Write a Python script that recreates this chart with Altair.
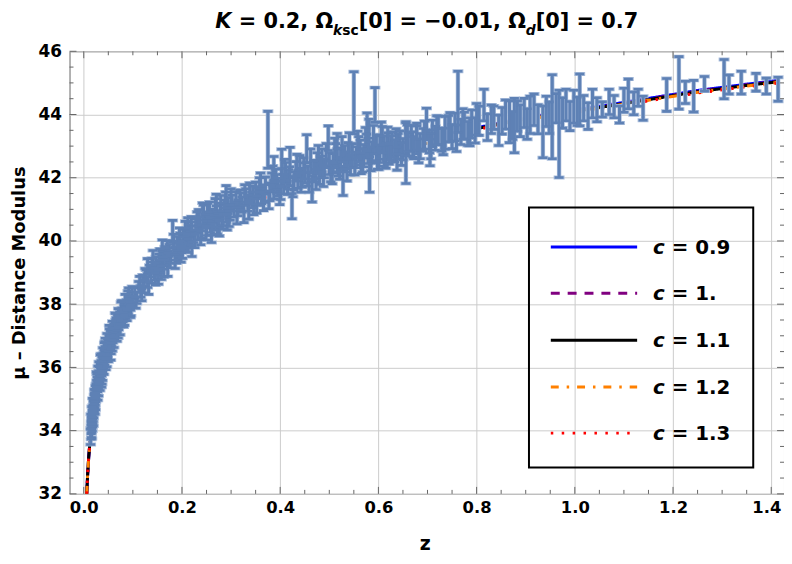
import altair as alt
import pandas as pd

# ---------------- supernova data ----------------
z_low = [0.0150, 0.0152, 0.0155, 0.0158, 0.0160, 0.0163, 0.0166, 0.0170, 0.0172, 0.0175,
         0.0178, 0.0182, 0.0185, 0.0188, 0.0192, 0.0196, 0.0200, 0.0204, 0.0208, 0.0212,
         0.0216, 0.0220, 0.0225, 0.0230, 0.0235, 0.0240, 0.0245, 0.0250, 0.0256, 0.0262,
         0.0268, 0.0275, 0.0282, 0.0290, 0.0297, 0.0305, 0.0312, 0.0320, 0.0328, 0.0336,
         0.0345, 0.0354, 0.0363, 0.0372, 0.0382, 0.0392, 0.0402, 0.0413, 0.0424, 0.0436,
         0.0448, 0.0460, 0.0473, 0.0486, 0.0500, 0.0515, 0.0530, 0.0545, 0.0560, 0.0577,
         0.0594, 0.0612, 0.0630, 0.0650, 0.0670, 0.0690, 0.0710, 0.0732, 0.0755, 0.0778,
         0.0800, 0.0825, 0.0850, 0.0875, 0.0900, 0.0925, 0.0950, 0.0975, 0.1000,
         0.0180, 0.0230, 0.0260, 0.0300, 0.0340, 0.0380, 0.0420, 0.0470, 0.0520, 0.0580,
         0.0640, 0.0700, 0.0760, 0.0830, 0.0900, 0.0960]
mu_low = [33.95, 34.10, 34.02, 34.25, 34.15, 33.98, 34.30, 34.38, 34.21, 34.45,
          34.33, 34.55, 34.40, 34.62, 34.50, 34.75, 34.60, 34.82, 34.70, 34.95,
          34.80, 35.02, 34.90, 35.12, 35.00, 35.25, 35.10, 35.30, 35.18, 35.42,
          35.30, 35.52, 35.40, 35.65, 35.50, 35.72, 35.60, 35.85, 35.70, 35.95,
          35.82, 36.05, 35.92, 36.15, 36.02, 36.28, 36.15, 36.38, 36.25, 36.50,
          36.38, 36.62, 36.48, 36.75, 36.62, 36.85, 36.72, 36.98, 36.85, 37.10,
          36.95, 37.22, 37.08, 37.35, 37.20, 37.48, 37.35, 37.60, 37.45, 37.72,
          37.60, 37.85, 37.72, 37.98, 37.85, 38.10, 37.98, 38.22, 38.10,
          34.80, 34.72, 35.65, 35.30, 36.20, 35.78, 36.60, 36.20, 37.15, 36.70,
          37.55, 37.10, 37.90, 37.50, 38.25, 37.80]
err_low = [0.22, 0.20, 0.24, 0.19, 0.21, 0.23, 0.20, 0.18, 0.22, 0.19,
           0.21, 0.18, 0.20, 0.19, 0.21, 0.18, 0.20, 0.19, 0.17, 0.19,
           0.20, 0.18, 0.19, 0.18, 0.20, 0.17, 0.19, 0.18, 0.20, 0.17,
           0.19, 0.18, 0.17, 0.18, 0.19, 0.17, 0.18, 0.17, 0.18, 0.17,
           0.18, 0.17, 0.18, 0.17, 0.17, 0.16, 0.17, 0.16, 0.18, 0.16,
           0.17, 0.16, 0.17, 0.16, 0.17, 0.16, 0.17, 0.16, 0.17, 0.16,
           0.17, 0.16, 0.17, 0.16, 0.17, 0.16, 0.16, 0.16, 0.17, 0.16,
           0.16, 0.16, 0.17, 0.16, 0.16, 0.16, 0.17, 0.16, 0.16,
           0.22, 0.20, 0.21, 0.20, 0.19, 0.19, 0.18, 0.18, 0.18, 0.18,
           0.17, 0.17, 0.17, 0.17, 0.17, 0.17]
z_low2 = [0.0140, 0.0145, 0.0165, 0.0195, 0.0215, 0.0240, 0.0265, 0.0285, 0.0310, 0.0330,
          0.0350, 0.0370, 0.0390, 0.0410, 0.0430, 0.0450, 0.0475, 0.0500, 0.0525, 0.0555,
          0.0585, 0.0615, 0.0645, 0.0675, 0.0705, 0.0740, 0.0770, 0.0810, 0.0845, 0.0880,
          0.0915, 0.0950, 0.0985, 0.0290, 0.0360, 0.0440, 0.0550, 0.0660, 0.0790, 0.0940]
mu_low2 = [33.80, 34.30, 34.55, 34.35, 35.10, 34.85, 35.60, 35.15, 36.00, 35.45,
           36.25, 35.65, 36.45, 35.95, 36.65, 36.10, 36.90, 36.35, 37.05, 36.60,
           37.30, 36.80, 37.55, 37.00, 37.70, 37.20, 37.95, 37.45, 38.15, 37.65,
           38.35, 37.75, 38.40, 35.85, 35.55, 36.75, 36.40, 37.40, 37.95, 38.00]
err_low2 = [0.24, 0.22, 0.21, 0.20, 0.20, 0.19, 0.19, 0.19, 0.18, 0.18,
            0.18, 0.18, 0.17, 0.17, 0.17, 0.17, 0.17, 0.17, 0.17, 0.17,
            0.16, 0.17, 0.16, 0.17, 0.16, 0.17, 0.16, 0.17, 0.16, 0.17,
            0.16, 0.17, 0.16, 0.19, 0.18, 0.17, 0.17, 0.17, 0.16, 0.16]

z_sdss = [0.104, 0.108, 0.112, 0.116, 0.120, 0.123, 0.127, 0.130, 0.134, 0.137,
          0.141, 0.144, 0.147, 0.150, 0.153, 0.156, 0.159, 0.162, 0.165, 0.168,
          0.171, 0.174, 0.177, 0.181, 0.184, 0.187, 0.190, 0.193, 0.196, 0.199,
          0.202, 0.205, 0.208, 0.211, 0.214, 0.217, 0.220, 0.224, 0.228, 0.232,
          0.236, 0.240, 0.242, 0.246, 0.250, 0.254, 0.258, 0.262, 0.266, 0.270,
          0.274, 0.278, 0.282, 0.286, 0.290, 0.294, 0.298, 0.302, 0.306, 0.310,
          0.141, 0.160, 0.130, 0.152, 0.220, 0.260, 0.290, 0.270]
mu_sdss = [38.35, 38.20, 38.55, 38.40, 38.75, 38.55, 38.90, 38.70, 39.05, 38.85,
           39.15, 38.95, 39.30, 39.10, 39.40, 39.20, 39.50, 39.30, 39.62, 39.40,
           39.25, 39.70, 39.50, 40.30, 39.80, 39.60, 39.95, 39.72, 40.05, 39.82,
           40.15, 39.92, 40.22, 40.00, 40.32, 40.08, 40.40, 40.15, 40.48, 40.25,
           40.55, 40.30, 40.85, 40.62, 40.40, 40.70, 40.50, 40.78, 40.58, 40.88,
           40.65, 40.95, 40.72, 41.05, 40.82, 41.12, 40.90, 41.20, 41.00, 41.30,
           39.45, 39.75, 39.20, 38.85, 39.75, 40.20, 41.45, 41.20]
err_sdss = [0.17, 0.18, 0.17, 0.18, 0.17, 0.19, 0.18, 0.17, 0.18, 0.19,
            0.18, 0.19, 0.20, 0.18, 0.19, 0.20, 0.18, 0.19, 0.20, 0.18,
            0.37, 0.19, 0.20, 0.35, 0.19, 0.20, 0.19, 0.21, 0.20, 0.19,
            0.21, 0.20, 0.19, 0.21, 0.20, 0.22, 0.21, 0.20, 0.22, 0.21,
            0.22, 0.21, 0.35, 0.22, 0.23, 0.22, 0.23, 0.22, 0.24, 0.23,
            0.22, 0.24, 0.23, 0.24, 0.23, 0.25, 0.24, 0.25, 0.24, 0.26,
            0.25, 0.28, 0.24, 0.22, 0.24, 0.25, 0.30, 0.28]
z_sdss2 = [0.106, 0.114, 0.118, 0.125, 0.132, 0.139, 0.146, 0.155, 0.163, 0.170,
           0.176, 0.183, 0.189, 0.195, 0.201, 0.207, 0.213, 0.219, 0.226, 0.231,
           0.238, 0.244, 0.249, 0.256, 0.261, 0.268, 0.272, 0.279, 0.284, 0.289,
           0.296, 0.300, 0.158, 0.186, 0.212, 0.234, 0.252, 0.276, 0.292, 0.198]
mu_sdss2 = [38.05, 38.70, 38.30, 38.95, 38.50, 39.25, 38.80, 39.55, 39.05, 39.80,
            39.35, 40.00, 39.50, 40.20, 39.65, 40.40, 39.85, 40.55, 40.00, 40.70,
            40.10, 40.90, 40.25, 41.00, 40.40, 41.10, 40.45, 41.20, 40.60, 41.30,
            40.70, 41.40, 39.00, 39.35, 40.50, 40.75, 40.95, 40.40, 40.60, 39.55]
err_sdss2 = [0.18, 0.18, 0.19, 0.18, 0.19, 0.20, 0.19, 0.20, 0.19, 0.21,
             0.20, 0.21, 0.20, 0.21, 0.20, 0.22, 0.21, 0.22, 0.21, 0.22,
             0.22, 0.23, 0.22, 0.23, 0.22, 0.24, 0.23, 0.24, 0.23, 0.25,
             0.24, 0.25, 0.22, 0.22, 0.23, 0.24, 0.24, 0.24, 0.25, 0.22]

z_mid = [0.314, 0.318, 0.322, 0.326, 0.330, 0.334, 0.338, 0.342, 0.346, 0.350,
         0.354, 0.358, 0.362, 0.366, 0.370, 0.375, 0.379, 0.383, 0.387, 0.391,
         0.395, 0.399, 0.403, 0.407, 0.411, 0.415, 0.419, 0.424, 0.428, 0.432,
         0.436, 0.440, 0.445, 0.450, 0.454, 0.459, 0.465, 0.470, 0.475, 0.480,
         0.485, 0.490, 0.498, 0.503, 0.508, 0.513, 0.518, 0.523, 0.528, 0.533,
         0.538, 0.543, 0.550, 0.555, 0.560, 0.565, 0.570, 0.576, 0.582, 0.587,
         0.593, 0.598, 0.603, 0.608,
         0.387, 0.403, 0.420, 0.516, 0.577, 0.581, 0.619, 0.640, 0.656, 0.678]
mu_mid = [41.05, 41.35, 41.15, 40.85, 41.40, 41.20, 41.55, 41.30, 41.10, 41.60,
          41.40, 41.70, 41.45, 41.25, 41.75, 43.20, 41.55, 41.85, 41.60, 41.95,
          41.70, 41.45, 42.00, 41.80, 42.15, 41.75, 42.05, 41.10, 41.90, 42.20,
          41.95, 42.35, 42.00, 42.15, 42.92, 41.85, 41.65, 42.25, 42.45, 42.10,
          42.55, 42.30, 43.25, 42.20, 42.45, 42.70, 42.35, 42.60, 41.90, 42.50,
          42.75, 42.40, 44.37, 42.65, 42.90, 42.45, 42.70, 43.00, 42.10, 42.80,
          44.30, 42.60, 42.95, 43.20,
          42.30, 42.40, 42.50, 42.90, 43.45, 43.30, 43.10, 43.00, 43.25, 43.20]
err_mid = [0.25, 0.26, 0.24, 0.27, 0.25, 0.26, 0.28, 0.25, 0.27, 0.26,
           0.28, 0.30, 0.27, 0.29, 0.27, 0.90, 0.28, 0.30, 0.27, 0.32,
           0.28, 0.30, 0.29, 0.31, 0.33, 0.28, 0.30, 0.40, 0.29, 0.31,
           0.28, 0.35, 0.30, 0.32, 0.44, 0.31, 0.42, 0.30, 0.34, 0.31,
           0.36, 0.30, 0.39, 0.33, 0.31, 0.38, 0.30, 0.34, 0.46, 0.32,
           0.36, 0.31, 0.98, 0.33, 0.40, 0.32, 0.35, 0.38, 0.56, 0.34,
           0.55, 0.33, 0.37, 0.42,
           0.37, 0.50, 0.46, 0.50, 0.60, 0.55, 0.50, 0.40, 0.52, 0.44]
z_mid2 = [0.312, 0.320, 0.328, 0.336, 0.344, 0.352, 0.360, 0.368, 0.377, 0.385,
          0.393, 0.401, 0.409, 0.417, 0.426, 0.434, 0.442, 0.448, 0.456, 0.462,
          0.468, 0.473, 0.478, 0.483, 0.488, 0.494, 0.500, 0.506, 0.511, 0.516,
          0.521, 0.526, 0.531, 0.536, 0.541, 0.547, 0.552, 0.558, 0.563, 0.568,
          0.574, 0.579, 0.585, 0.590, 0.596, 0.601, 0.606, 0.611, 0.615, 0.620]
mu_mid2 = [40.80, 41.25, 41.50, 40.95, 41.45, 41.15, 41.85, 41.50, 41.30, 42.05,
           41.80, 41.60, 42.25, 41.95, 41.70, 42.40, 41.85, 42.30, 42.05, 42.55,
           42.20, 41.95, 42.65, 42.35, 42.05, 42.70, 42.45, 42.15, 42.85, 42.55,
           42.30, 42.90, 42.65, 42.25, 43.00, 42.70, 42.45, 43.05, 42.80, 42.55,
           43.15, 42.85, 42.60, 43.20, 42.95, 42.65, 43.30, 42.90, 42.70, 43.00]
err_mid2 = [0.26, 0.27, 0.28, 0.26, 0.28, 0.27, 0.30, 0.28, 0.28, 0.32,
            0.30, 0.29, 0.33, 0.31, 0.30, 0.34, 0.31, 0.33, 0.32, 0.36,
            0.33, 0.32, 0.37, 0.34, 0.33, 0.38, 0.35, 0.34, 0.40, 0.36,
            0.35, 0.40, 0.37, 0.35, 0.42, 0.38, 0.36, 0.42, 0.39, 0.37,
            0.44, 0.40, 0.38, 0.45, 0.41, 0.39, 0.46, 0.42, 0.40, 0.42]

z_high = [0.612, 0.617, 0.622, 0.628, 0.633, 0.638, 0.644, 0.650, 0.656, 0.661,
          0.667, 0.672, 0.678, 0.685, 0.691, 0.698, 0.704, 0.710, 0.716, 0.722,
          0.729, 0.736, 0.743, 0.750, 0.756, 0.762, 0.768, 0.775, 0.782, 0.790,
          0.797, 0.805, 0.815, 0.822, 0.830, 0.835, 0.845, 0.852, 0.859, 0.867,
          0.873, 0.877, 0.883, 0.889, 0.897, 0.903, 0.909, 0.917, 0.925, 0.935,
          0.942, 0.948, 0.954, 0.962, 0.968, 0.975, 0.982, 0.990, 0.998]
mu_high = [42.70, 42.95, 42.75, 43.05, 42.85, 42.60, 43.10, 42.90, 42.78, 43.05,
           43.25, 42.95, 43.30, 43.00, 43.20, 43.70, 43.15, 43.40, 43.25, 43.50,
           43.20, 43.42, 43.55, 43.30, 43.60, 44.40, 43.45, 43.65, 43.40, 43.70,
           43.50, 43.80, 44.30, 43.60, 43.85, 43.90, 43.50, 43.80, 44.00, 43.77,
           43.65, 43.65, 43.95, 43.80, 44.05, 43.70, 43.99, 44.15, 43.85, 43.45,
           44.10, 43.90, 43.93, 44.20, 43.39, 44.05, 44.30, 43.95, 44.25]
err_high = [0.34, 0.38, 0.32, 0.40, 0.35, 0.36, 0.38, 0.34, 0.96, 0.36,
            0.40, 0.35, 0.42, 0.40, 0.36, 0.50, 0.37, 0.42, 0.38, 0.45,
            0.36, 0.52, 0.42, 0.38, 0.44, 0.97, 0.40, 0.42, 0.38, 0.44,
            0.40, 0.46, 0.50, 0.42, 0.45, 0.37, 0.48, 0.42, 0.46, 0.66,
            0.44, 0.86, 0.48, 0.50, 0.46, 0.48, 0.59, 0.50, 0.46, 0.82,
            0.48, 0.50, 1.33, 0.46, 1.38, 0.48, 0.50, 0.46, 0.52]
z_high2 = [0.625, 0.636, 0.647, 0.659, 0.670, 0.682, 0.694, 0.707, 0.719, 0.732,
           0.746, 0.759, 0.772, 0.786, 0.800, 0.705]
mu_high2 = [42.95, 43.15, 42.75, 43.25, 43.05, 42.85, 43.35, 43.00, 43.50, 43.15,
            43.60, 43.25, 43.70, 43.45, 43.85, 42.80]
err_high2 = [0.38, 0.40, 0.36, 0.42, 0.40, 0.38, 0.44, 0.40, 0.46, 0.42,
             0.46, 0.42, 0.48, 0.44, 0.50, 0.42]

z_far = [1.005, 1.010, 1.018, 1.027, 1.036, 1.045, 1.056, 1.070, 1.080, 1.091,
         1.100, 1.109, 1.120, 1.129, 1.139, 1.187, 1.212, 1.225, 1.242, 1.264,
         1.304, 1.314, 1.339, 1.369, 1.390, 1.414]
mu_far = [44.10, 44.46, 44.20, 43.95, 44.35, 44.15, 44.16, 44.40, 44.25, 44.00,
          44.45, 44.65, 44.35, 44.53, 44.20, 44.62, 45.00, 44.70, 44.58, 44.97,
          45.12, 44.95, 45.01, 45.02, 44.90, 44.80]
err_far = [0.45, 0.82, 0.40, 0.42, 0.45, 0.38, 0.24, 0.40, 0.35, 0.27,
           0.38, 0.47, 0.36, 0.27, 0.38, 0.52, 0.83, 0.35, 0.50, 0.23,
           0.62, 0.30, 0.36, 0.28, 0.25, 0.38]

# ---------------- model curves ----------------
curve_z = [0.006, 0.008, 0.010, 0.0125, 0.015, 0.020, 0.025, 0.030, 0.040, 0.050,
           0.065, 0.080, 0.100, 0.125, 0.150, 0.200, 0.250, 0.300, 0.350, 0.400,
           0.450, 0.500, 0.550,
           0.600, 0.650, 0.700, 0.760, 0.840, 0.900, 1.000, 1.050, 1.150, 1.250,
           1.350, 1.410]
curve_mu_common = [32.00, 32.65, 33.15, 33.62, 34.00, 34.62, 35.10, 35.50, 36.12, 36.60,
                   37.18, 37.65, 38.15, 38.65, 39.05, 39.75, 40.30, 40.80, 41.22, 41.60,
                   41.93, 42.18, 42.42]
curve_tail_09 = [42.67, 42.91, 43.13, 43.45, 43.71, 43.90, 44.14, 44.26, 44.51, 44.76, 44.96, 45.07]
curve_tail_10 = [42.66, 42.90, 43.12, 43.44, 43.70, 43.88, 44.12, 44.24, 44.49, 44.74, 44.94, 45.05]
curve_tail_11 = [42.65, 42.88, 43.10, 43.42, 43.68, 43.86, 44.10, 44.22, 44.47, 44.72, 44.92, 45.03]
curve_tail_12 = [42.64, 42.87, 43.09, 43.40, 43.66, 43.84, 44.08, 44.20, 44.45, 44.70, 44.90, 45.01]
curve_tail_13 = [42.64, 42.86, 43.08, 43.39, 43.65, 43.82, 44.06, 44.18, 44.43, 44.68, 44.88, 44.99]

series_c = ["0.9", "1.", "1.1", "1.2", "1.3"]
series_tails = [curve_tail_09, curve_tail_10, curve_tail_11, curve_tail_12, curve_tail_13]
series_colors = ["#0000FF", "#800080", "#000000", "#FF8000", "#FF0000"]
series_dash = [[1, 0], [9, 8], [1, 0], [8, 8, 2.5, 8], [2.5, 8.5]]

# ---------------- axes ----------------
x_ticks = [0.0, 0.2, 0.4, 0.6, 0.8, 1.0, 1.2, 1.4]
x_minor = [0.05, 0.1, 0.15, 0.25, 0.3, 0.35, 0.45, 0.5, 0.55, 0.65, 0.7, 0.75,
           0.85, 0.9, 0.95, 1.05, 1.1, 1.15, 1.25, 1.3, 1.35]
y_ticks = [32, 34, 36, 38, 40, 42, 44, 46]
y_minor = [32.5, 33, 33.5, 34.5, 35, 35.5, 36.5, 37, 37.5, 38.5, 39, 39.5,
           40.5, 41, 41.5, 42.5, 43, 43.5, 44.5, 45, 45.5]

W, H = 720, 446
FONT = "DejaVu Sans"
BAR = "#5E81B5"
HALO = "#A9BDDB"
FRAME = "#666666"

sn = pd.DataFrame({
    "z": z_low + z_low2 + z_sdss + z_sdss2 + z_mid + z_mid2 + z_high + z_high2 + z_far,
    "mu": mu_low + mu_low2 + mu_sdss + mu_sdss2 + mu_mid + mu_mid2 + mu_high + mu_high2 + mu_far,
    "err": err_low + err_low2 + err_sdss + err_sdss2 + err_mid + err_mid2 + err_high + err_high2 + err_far,
})
sn["lo"] = sn["mu"] - sn["err"]
sn["hi"] = sn["mu"] + sn["err"]

xs = alt.Scale(domain=[-0.029, 1.426], nice=False, zero=False)
ys = alt.Scale(domain=[32, 46], nice=False, zero=False)

x_axis = alt.Axis(values=x_ticks, format=".1f", grid=True, gridColor="#CCCCCC", gridWidth=1,
                  ticks=False, tickSize=0, domain=False, labelFont=FONT, labelFontSize=16.5,
                  labelFontWeight="bold", labelColor="black", labelPadding=6,
                  labelFlush=False, labelOverlap=False,
                  labelOffset={"condition": {"test": "datum.value >= 1.39", "value": -5}, "value": 0},
                  title="z", titleFont=FONT, titleFontSize=19, titleFontWeight="bold",
                  titleColor="black", titleX=358, titleY=56, titleAlign="center",
                  titleBaseline="alphabetic")
y_axis = alt.Axis(values=y_ticks, format="d", grid=True, gridColor="#CCCCCC", gridWidth=1,
                  ticks=False, tickSize=0, domain=False, labelFont=FONT, labelFontSize=17,
                  labelFontWeight="bold", labelColor="black", labelPadding=8,
                  labelFlush=False, labelOverlap=False,
                  title="μ – Distance Modulus", titleFont=FONT, titleFontSize=18,
                  titleFontWeight="bold", titleColor="black", titleAngle=270,
                  titleX=-45, titleY=223, titleAlign="center", titleBaseline="alphabetic")

layers = []

# curves
for c, tail, col, dash in zip(series_c, series_tails, series_colors, series_dash):
    cdf = pd.DataFrame({"z": curve_z, "mu": curve_mu_common + tail})
    layers.append(
        alt.Chart(cdf).mark_line(color=col, strokeWidth=3, strokeDash=dash, clip=True)
        .encode(x=alt.X("z:Q", scale=xs, axis=x_axis),
                y=alt.Y("mu:Q", scale=ys, axis=y_axis))
    )

# error bars (light halo underneath, then the bar colour)
base = alt.Chart(sn)
for col, sw, tsz, tth in [(HALO, 4.4, 11, 4.0), (BAR, 3.0, 9, 2.6)]:
    layers.append(
        base.mark_rule(color=col, strokeWidth=sw, clip=True).encode(
            x=alt.X("z:Q", scale=xs, axis=x_axis),
            y=alt.Y("lo:Q", scale=ys, axis=y_axis),
            y2="hi:Q")
    )
    for end in ["lo", "hi"]:
        layers.append(
            base.mark_tick(color=col, orient="horizontal", size=tsz, thickness=tth,
                           opacity=1, clip=True)
            .encode(x=alt.X("z:Q", scale=xs, axis=x_axis),
                    y=alt.Y(f"{end}:Q", scale=ys, axis=y_axis))
        )

# inward frame ticks
def yticks(vals, x0, x1):
    return alt.Chart(pd.DataFrame({"v": vals})).mark_rule(color=FRAME, strokeWidth=1).encode(
        y=alt.Y("v:Q", scale=ys, axis=y_axis), x=alt.value(x0), x2=alt.value(x1))

def xticks(vals, y0, y1):
    return alt.Chart(pd.DataFrame({"v": vals})).mark_rule(color=FRAME, strokeWidth=1).encode(
        x=alt.X("v:Q", scale=xs, axis=x_axis), y=alt.value(y0), y2=alt.value(y1))

layers += [yticks(y_ticks, 0, 7), yticks(y_minor, 0, 4),
           yticks(y_ticks, W, W - 7), yticks(y_minor, W, W - 4),
           xticks(x_ticks, H, H - 7), xticks(x_minor, H, H - 4),
           xticks(x_ticks, 0, 7), xticks(x_minor, 0, 4)]

one = pd.DataFrame({"k": [0]})

def txt(s, x, y, size, italic=False, align="left"):
    return alt.Chart(one).mark_text(
        text=s, font=FONT, fontSize=size, fontWeight="bold",
        fontStyle="italic" if italic else "normal", align=align,
        baseline="alphabetic", color="black").encode(x=alt.value(x), y=alt.value(y))

# title with subscripts (approximate DejaVu Sans Bold advance widths)
adv = {" ": .348, "=": .838, ".": .380, ",": .380, "[": .457, "]": .457, "−": .838,
       "K": .775, "Ω": .84, "k": .665, "s": .595, "c": .592, "d": .716}
for dch in "0123456789":
    adv[dch] = .696

def width(s, size):
    return sum(adv.get(ch, .6) for ch in s) * size

FS, SFS = 21, 14
BASE_Y, SUB_Y = -23, -16
pieces = [("K", FS, True, BASE_Y, 0.0), ("= 0.2, Ω", FS, False, BASE_Y, width(" ", FS)),
          ("k", SFS, True, SUB_Y, 0.0), ("sc", SFS, False, SUB_Y, 0.0),
          ("[0] = −0.01, Ω", FS, False, BASE_Y, 0.0), ("d", SFS, True, SUB_Y, 0.0),
          ("[0] = 0.7", FS, False, BASE_Y, 0.0)]
total = sum(width(p[0], p[1]) + p[4] for p in pieces)
cx = W / 2 - total / 2
for s, size, it, yy, pre in pieces:
    cx += pre
    layers.append(txt(s, cx, yy, size, it))
    cx += width(s, size)

# legend (framed box inside plot)
layers.append(
    alt.Chart(one).mark_rect(filled=False, stroke="black", strokeWidth=2).encode(
        x=alt.value(463), x2=alt.value(689), y=alt.value(157.5), y2=alt.value(419.5))
)
leg_y = [197.2, 243.8, 291.2, 338.2, 384.8]
for c, col, dash, ly in zip(series_c, series_colors, series_dash, leg_y):
    layers.append(
        alt.Chart(one).mark_rule(color=col, strokeWidth=3, strokeDash=dash).encode(
            x=alt.value(485), x2=alt.value(572), y=alt.value(ly))
    )
    layers.append(txt("c", 588, ly + 7, 20, True))
    layers.append(txt("= " + c, 588 + width("c ", 20), ly + 7, 20, False))

chart = alt.layer(*layers).properties(
    width=W, height=H,
    padding={"left": 62, "top": 41.5, "right": 0, "bottom": 60},
    autosize=alt.AutoSizeParams(type="none"),
).configure_view(stroke=FRAME, strokeWidth=1)

chart.save("out.html", embed_options={"renderer": "svg", "actions": False})
